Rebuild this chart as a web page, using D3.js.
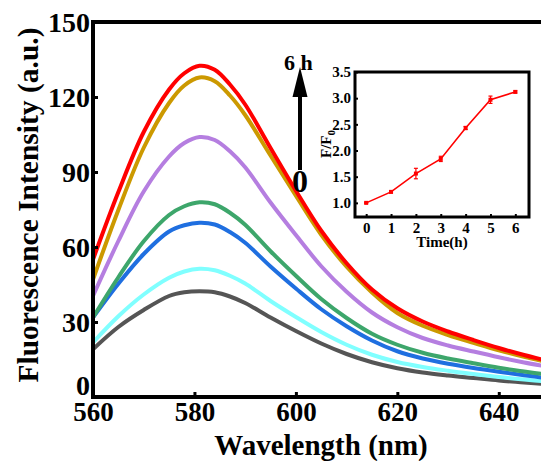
<!DOCTYPE html>
<html><head><meta charset="utf-8">
<script src="https://cdn.jsdelivr.net/npm/d3@7"></script>
<style>
html,body{margin:0;padding:0;background:#fff;overflow:hidden;}
svg{display:block;}
svg text{font-family:"Liberation Serif","Times New Roman",serif;font-weight:bold;}
</style></head>
<body>
<script>
// ---- data ----
const wavelengths = [560,565,570,575,578,581,584,587,590,595,600,605,610,615,620,625,630,635,640,645,650];
const h0 = [19.1,28,34.8,40.4,41.9,42.3,41.9,40.2,37.6,31.8,26.4,21.4,17.2,13.9,11.5,9.8,8.6,7.6,6.6,5.8,5.0];
const h1 = [21.8,32.3,41,47.7,50.2,51.3,50.7,48.5,45.4,38.4,32,26,20.9,16.9,14.0,12.0,10.5,9.2,8.0,7.0,6.1];
const h2 = [31.8,45.3,57.2,66.2,68.7,69.7,69.0,66.0,61.7,52.2,43.4,35.1,28.3,22.6,18.3,15.4,13.3,11.6,10.1,8.7,7.4];
const h3 = [31.8,47.9,62.3,72.8,76.3,77.9,77.1,73.7,68.9,58.3,48.5,39.2,31.6,25.3,20.9,17.7,15.4,13.5,11.7,10.2,8.8];
const h4 = [40.4,62.4,82.2,96.2,101.6,104,102.8,98.3,91.9,77.8,64.8,52.3,42.1,33.8,27.9,23.6,20.6,18.2,15.9,13.8,12];
const h5 = [47,74.8,99.7,117.6,124.6,127.8,126.3,120.6,112.8,96.6,80.5,64.9,52.1,41.8,33.6,28.5,24.8,21.7,18.7,16.1,13.8];
const h6 = [55,82,106,123,129.5,132.5,130.9,125,117,99.6,82.5,66.5,53.5,43,35.5,30.2,26.2,22.8,19.6,16.8,14.3];
const seriesValues = [h0,h1,h2,h3,h4,h5,h6];
const seriesColors = ["#555555","#80FFFF","#1F6FE0","#3DA66B","#B57EE0","#CC9900","#FF0000"];
const xTicks = [560,580,600,620,640];
const yTicks = [0,30,60,90,120,150];

const times = [0,1,2,3,4,5,6];
const ratio = [1.0,1.21,1.56,1.84,2.43,2.97,3.12];
const ratioErr = [0.01,0.02,0.1,0.05,0.03,0.07,0.02];
const insetYTicks = [1.0,1.5,2.0,2.5,3.0,3.5];

// ---- layout ----
const W = 541, H = 461;
const svg = d3.select("body").append("svg").attr("width",W).attr("height",H);
const x = d3.scaleLinear().domain([560,650]).range([93,549.5]);
const y = d3.scaleLinear().domain([0,150]).range([397,22]);

// curves
const line = d3.line().x((d,i)=>x(wavelengths[i])).y(d=>y(d)).curve(d3.curveCatmullRom.alpha(0.5));
svg.append("g").selectAll("path").data(seriesValues).join("path")
  .attr("d",d=>line(d)).attr("fill","none")
  .attr("stroke",(d,i)=>seriesColors[i]).attr("stroke-width",4);

function styleText(sel, size){
  sel.attr("font-size",size).attr("font-weight","bold").attr("fill","#000");
}

// axes
const gx = svg.append("g").attr("transform","translate(0,397)")
  .call(d3.axisBottom(x).tickValues(xTicks).tickSize(-5).tickPadding(4));
gx.attr("font-family",null);
gx.select(".domain").attr("stroke","#000").attr("stroke-width",4).attr("d","M91,0H560");
gx.selectAll(".tick line").attr("stroke","#000").attr("stroke-width",3);
gx.selectAll(".tick text").call(styleText,27).attr("dy","0.72em").attr("y",5);

const gy = svg.append("g").attr("transform","translate(93,0)")
  .call(d3.axisLeft(y).tickValues(yTicks).tickSize(-5).tickPadding(4));
gy.attr("font-family",null);
gy.select(".domain").attr("stroke","#000").attr("stroke-width",4).attr("d","M0,399V20");
gy.selectAll(".tick line").attr("stroke","#000").attr("stroke-width",3);
gy.selectAll(".tick text").call(styleText,28).attr("x",-3)
  .attr("dy",d=>d===0?"-0.1em":"0.34em");

// top border
svg.append("line").attr("x1",91).attr("x2",560).attr("y1",y(150)).attr("y2",y(150))
  .attr("stroke","#000").attr("stroke-width",4);

// axis titles
svg.append("text").attr("x",321).attr("y",455).attr("text-anchor","middle")
  .call(styleText,29).text("Wavelength (nm)");
svg.append("text").attr("transform","translate(38,205) rotate(-90)").attr("text-anchor","middle")
  .call(styleText,29.5).text("Fluorescence Intensity (a.u.)");

// arrow
svg.append("line").attr("x1",300).attr("x2",300).attr("y1",170).attr("y2",94)
  .attr("stroke","#000").attr("stroke-width",4);
svg.append("path").attr("d","M300,67 L307.5,97 L292.5,97 Z").attr("fill","#000");
svg.append("text").attr("x",284).attr("y",70).call(styleText,22).text("6 h");
svg.append("text").attr("x",300).attr("y",192).attr("text-anchor","middle").call(styleText,32).text("0");

// ---- inset ----
const ix = d3.scaleLinear().domain([-0.45,6.55]).range([355,529]);
const iy = d3.scaleLinear().domain([0.73,3.5]).range([217,72]);
const ins = svg.append("g");
ins.append("rect").attr("x",355).attr("y",72).attr("width",174).attr("height",145)
  .attr("fill","#fff").attr("stroke","#000").attr("stroke-width",3);
const igx = ins.append("g").attr("transform","translate(0,217)")
  .call(d3.axisBottom(ix).tickValues(times).tickSize(-3).tickPadding(5).tickFormat(d3.format("d")));
igx.attr("font-family",null);
igx.select(".domain").remove();
igx.selectAll(".tick line").attr("stroke","#000").attr("stroke-width",2);
igx.selectAll(".tick text").call(styleText,15).attr("dy","0.7em");
const igy = ins.append("g").attr("transform","translate(355,0)")
  .call(d3.axisLeft(iy).tickValues(insetYTicks).tickSize(-3).tickPadding(4).tickFormat(d3.format(".1f")));
igy.attr("font-family",null);
igy.select(".domain").remove();
igy.selectAll(".tick line").attr("stroke","#000").attr("stroke-width",2);
igy.selectAll(".tick text").call(styleText,15);

const iline = d3.line().x((d,i)=>ix(times[i])).y(d=>iy(d));
ins.append("path").attr("d",iline(ratio)).attr("fill","none").attr("stroke","#FF0000").attr("stroke-width",1.6);
const eb = ins.append("g").attr("stroke","#FF0000").attr("stroke-width",1.2);
ratio.forEach((r,i)=>{
  const cx = ix(times[i]), y1 = iy(r+ratioErr[i]), y2 = iy(r-ratioErr[i]);
  eb.append("line").attr("x1",cx).attr("x2",cx).attr("y1",y1).attr("y2",y2);
  eb.append("line").attr("x1",cx-2).attr("x2",cx+2).attr("y1",y1).attr("y2",y1);
  eb.append("line").attr("x1",cx-2).attr("x2",cx+2).attr("y1",y2).attr("y2",y2);
});
ins.append("g").selectAll("rect").data(ratio).join("rect")
  .attr("x",(d,i)=>ix(times[i])-2).attr("y",d=>iy(d)-2).attr("width",4).attr("height",4).attr("fill","#FF0000");

ins.append("text").attr("x",442).attr("y",247).attr("text-anchor","middle").call(styleText,15).text("Time(h)");
const fl = ins.append("text").attr("transform","translate(331,144) rotate(-90)").attr("text-anchor","middle").call(styleText,15);
fl.append("tspan").text("F/F");
fl.append("tspan").attr("font-size",11).attr("dy",4).text("0");
</script>
</body></html>
